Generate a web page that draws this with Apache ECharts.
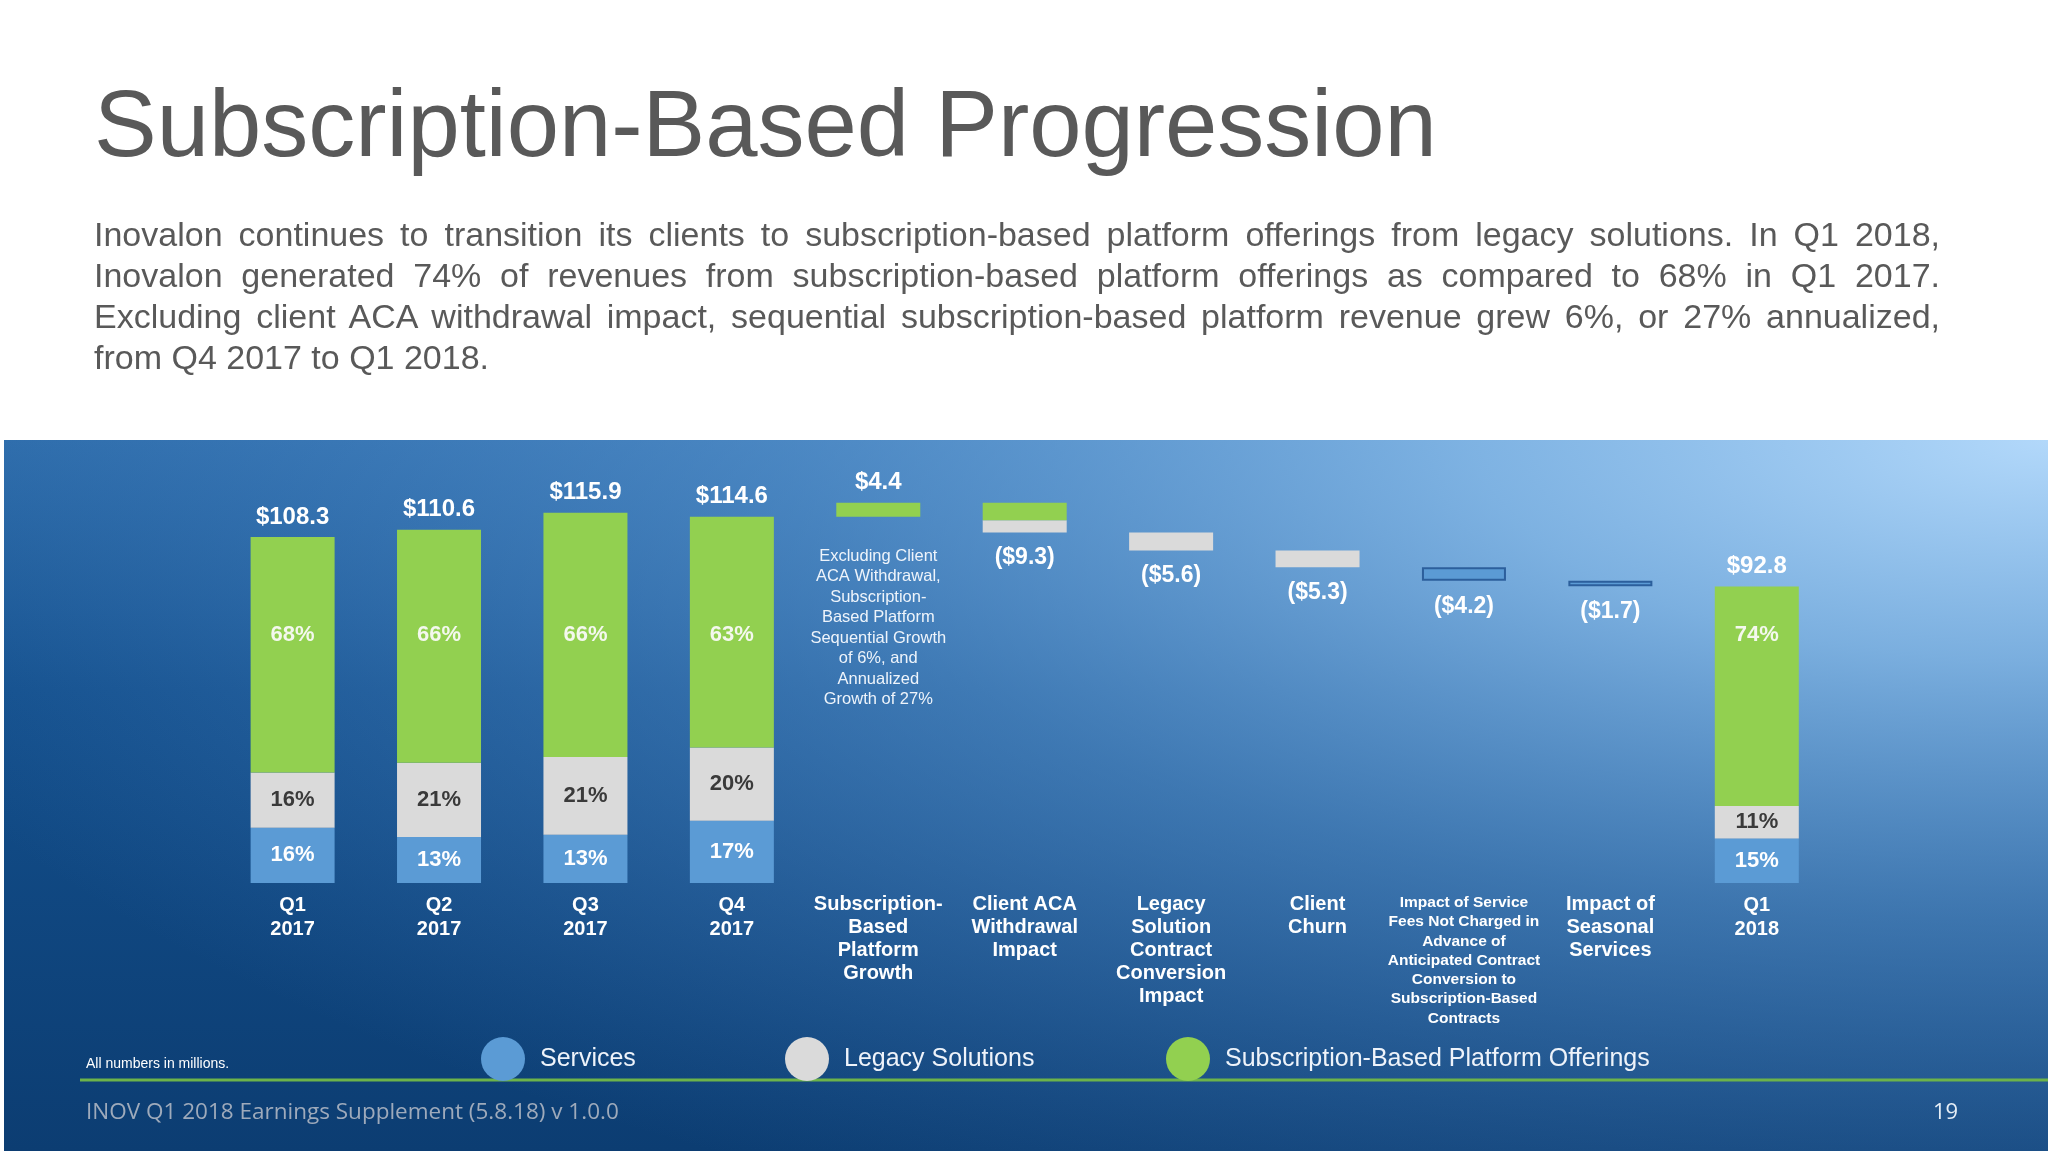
<!DOCTYPE html>
<html>
<head>
<meta charset="utf-8">
<script src="https://cdn.jsdelivr.net/npm/echarts@6/dist/echarts.min.js"></script>
<style>
  html, body { margin: 0; padding: 0; background: #ffffff; overflow: hidden; }
  #wrap { position: relative; width: 2048px; height: 1151px; }
  #chart { position: absolute; left: 0; top: 0; width: 2048px; height: 1151px; }
  #title { position: absolute; left: 94px; top: 77px; font-family: "Liberation Sans", Arial, sans-serif;
           font-size: 94px; line-height: 94px; color: #595959; white-space: nowrap; }
  #para { position: absolute; left: 94px; top: 214px; width: 1846px; font-family: "Liberation Sans", Arial, sans-serif;
          font-size: 34px; line-height: 41px; color: #595959; }
  #para .j { text-align: justify; text-align-last: justify; }
  #para .l { text-align: left; }
</style>
</head>
<body>
<div id="wrap">
  <div id="chart"></div>
  <div id="title">Subscription-Based Progression</div>
  <div id="para">
    <div class="j">Inovalon continues to transition its clients to subscription-based platform offerings from legacy solutions. In Q1 2018,</div>
    <div class="j">Inovalon generated 74% of revenues from subscription-based platform offerings as compared to 68% in Q1 2017.</div>
    <div class="j">Excluding client ACA withdrawal impact, sequential subscription-based platform revenue grew 6%, or 27% annualized,</div>
    <div class="l">from Q4 2017 to Q1 2018.</div>
  </div>
</div>
<script>
// ---------------- DATA ----------------
const categories = [
  'Q1\n2017', 'Q2\n2017', 'Q3\n2017', 'Q4\n2017',
  'Subscription-\nBased\nPlatform\nGrowth',
  'Client ACA\nWithdrawal\nImpact',
  'Legacy\nSolution\nContract\nConversion\nImpact',
  'Client\nChurn',
  'Impact of Service\nFees Not Charged in\nAdvance of\nAnticipated Contract\nConversion to\nSubscription-Based\nContracts',
  'Impact of\nSeasonal\nServices',
  'Q1\n2018'
];
// period totals ($M); null = bridge step
const periodTotals = [108.3, 110.6, 115.9, 114.6, null, null, null, null, null, null, 92.8];
// bridge changes ($M)
const changeVals = [null, null, null, null, 4.4, -9.3, -5.6, -5.3, -4.2, -1.7, null];
// stacked segment values ($M)
const servicesVals     = [17.3, 14.4, 15.1, 19.5, null, null, null, null, 4.2, 1.7, 13.9];
const legacyVals       = [17.3, 23.2, 24.3, 22.9, null, 3.8, 5.6, 5.3, null, null, 10.2];
const subscriptionVals = [73.7, 73.0, 76.5, 72.2, 4.4, 5.5, null, null, null, null, 68.7];
// segment share labels (%)
const servicesPct     = [16, 13, 13, 17, null, null, null, null, null, null, 15];
const legacyPct       = [16, 21, 21, 20, null, null, null, null, null, null, 11];
const subscriptionPct = [68, 66, 66, 63, null, null, null, null, null, null, 74];
const growthNote = 'Excluding Client\nACA Withdrawal,\nSubscription-\nBased Platform\nSequential Growth\nof 6%, and\nAnnualized\nGrowth of 27%';
const legendNames = ['Services', 'Legacy Solutions', 'Subscription-Based Platform Offerings'];

// ---------------- STYLE CONSTANTS ----------------
const C_SERV = '#5b9bd5', C_LEG = '#dadada', C_SUB = '#92d050';
const FONT = '"Liberation Sans", Arial, sans-serif';
const NARROW = '"Liberation Sans Narrow", "Arial Narrow", "Liberation Sans", Arial, sans-serif';
const GREEN_LABEL_Y = 635;

// ---------------- DERIVED (running bridge) ----------------
const baseVals = [], topVals = [];
let running = null;
for (let i = 0; i < categories.length; i++) {
  if (periodTotals[i] != null) { running = periodTotals[i]; baseVals.push(null); topVals.push(periodTotals[i]); }
  else {
    const c = changeVals[i];
    if (c > 0) { baseVals.push(running); running += c; topVals.push(running); }
    else { running += c; baseVals.push(running); topVals.push(null); }
  }
}

function baseData() {
  return baseVals.map((v, i) => {
    if (v == null) return null;
    const c = changeVals[i];
    if (c > 0) {
      return { value: v, label: { show: true, position: 'insideTop', distance: 29, formatter: growthNote,
        fontSize: 16.5, lineHeight: 20.5, fontWeight: 'normal', color: '#eef4fb', fontFamily: FONT } };
    }
    return { value: v, label: { show: true, position: 'insideTop', distance: 14,
      formatter: '($' + Math.abs(c).toFixed(1) + ')', fontSize: 23, fontWeight: 'bold', color: '#ffffff', fontFamily: FONT } };
  });
}

function servicesData() {
  return servicesVals.map((v, i) => {
    if (v == null) return null;
    if (periodTotals[i] == null) return { value: v, itemStyle: { borderColor: '#2c5f9c', borderWidth: 2 } };
    return v;
  });
}

function subscriptionData(distances) {
  return subscriptionVals.map((v, i) => {
    if (v == null) return null;
    return { value: v, label: { distance: distances ? (distances[i] || 0) : 90 } };
  });
}

const chart = echarts.init(document.getElementById('chart'), null, { renderer: 'canvas' });

const labelInside = (pct, color) => ({
  show: true, position: 'inside', fontSize: 22, fontWeight: 'bold', color: color, fontFamily: FONT,
  formatter: p => pct[p.dataIndex] != null ? pct[p.dataIndex] + '%' : ''
});

const legendCommon = {
  top: 1032, icon: 'circle', itemWidth: 44, itemHeight: 44, selectedMode: false,
  textStyle: { color: '#eef3fa', fontSize: 25, fontFamily: FONT, padding: [0, 0, 0, 10] }
};

const option = {
  animation: false,
  backgroundColor: '#ffffff',
  graphic: { elements: [
    { type: 'rect', z: -10, shape: { x: 4, y: 440, width: 2044, height: 711 },
      style: { fill: { type: 'linear', x: 0, y: 0, x2: 0, y2: 1, colorStops: [
        { offset: 0, color: '#2a69a7' }, { offset: 0.35, color: '#134f8c' }, { offset: 1, color: '#0c3d72' } ] } } },
    { type: 'rect', z: -9, x: 4, y: 440, scaleY: 0.38, shape: { x: 0, y: 0, width: 2044, height: 1871 },
      style: { fill: { type: 'radial', x: 1, y: 0, r: 1.23, colorStops: [
        { offset: 0, color: 'rgba(178,216,250,1)' },
        { offset: 0.25, color: 'rgba(145,195,240,0.82)' },
        { offset: 0.55, color: 'rgba(110,168,225,0.48)' },
        { offset: 1, color: 'rgba(80,140,210,0)' } ] } } },
    { type: 'line', z: -8, shape: { x1: 80, y1: 1080, x2: 2048, y2: 1080 }, style: { stroke: '#6db34a', lineWidth: 3 } },
    { type: 'text', z: 5, x: 86, y: 1064, style: { text: 'All numbers in millions.', fill: '#ffffff', fontSize: 14,
      fontFamily: FONT, verticalAlign: 'middle' } },
    { type: 'text', z: 5, x: 86, y: 1113, style: { text: 'INOV Q1 2018 Earnings Supplement (5.8.18) v 1.0.0', fill: '#9eaabb',
      fontSize: 22.5, fontFamily: '"Open Sans", sans-serif', verticalAlign: 'middle' } },
    { type: 'text', z: 5, x: 1933, y: 1113, style: { text: '19', fill: '#e6eef6', fontSize: 22,
      fontFamily: '"Open Sans", sans-serif', verticalAlign: 'middle' } }
  ] },
  legend: [
    Object.assign({}, legendCommon, { data: [legendNames[0]], left: 476 }),
    Object.assign({}, legendCommon, { data: [legendNames[1]], left: 780 }),
    Object.assign({}, legendCommon, { data: [legendNames[2]], left: 1161 })
  ],
  grid: { left: 219.4, top: 435.7, width: 1610.6, height: 447.3 },
  xAxis: {
    type: 'category', data: categories,
    axisLine: { show: false }, axisTick: { show: false }, splitLine: { show: false },
    axisLabel: {
      interval: 0, margin: 10, color: '#ffffff', fontSize: 20, lineHeight: 24, fontWeight: 'bold', fontFamily: FONT,
      formatter: (v, i) => {
        if (periodTotals[i] != null) return v;
        if (v.split('\n').length > 5) return '{s|' + v + '}';
        return '{w|' + v + '}';
      },
      rich: {
        w: { fontSize: 20, lineHeight: 23, fontWeight: 'bold', color: '#ffffff', fontFamily: NARROW },
        s: { fontSize: 15.5, lineHeight: 19.3, fontWeight: 'bold', color: '#ffffff', fontFamily: NARROW }
      }
    }
  },
  yAxis: { type: 'value', min: 0, max: 140, show: false, splitLine: { show: false } },
  series: [
    { name: 'Base', type: 'bar', stack: 'w', barWidth: 84, data: baseData(),
      itemStyle: { color: 'rgba(0,0,0,0)' }, emphasis: { disabled: true } },
    { name: legendNames[0], type: 'bar', stack: 'w', barWidth: 84, data: servicesData(),
      itemStyle: { color: C_SERV }, label: labelInside(servicesPct, '#ffffff') },
    { name: legendNames[1], type: 'bar', stack: 'w', barWidth: 84, data: legacyVals,
      itemStyle: { color: C_LEG }, label: labelInside(legacyPct, '#3a3a3a') },
    { name: legendNames[2], type: 'bar', stack: 'w', barWidth: 84, data: subscriptionData(null),
      itemStyle: { color: C_SUB },
      label: { show: true, position: 'insideTop', fontSize: 22, fontWeight: 'bold', color: '#f4f8ee', fontFamily: FONT,
        formatter: p => subscriptionPct[p.dataIndex] != null ? subscriptionPct[p.dataIndex] + '%' : '' } },
    { name: 'Total', type: 'bar', barWidth: 84, barGap: '-100%', data: topVals, z: 1,
      itemStyle: { color: 'rgba(0,0,0,0)' }, emphasis: { disabled: true },
      label: { show: true, position: 'top', distance: 8, fontSize: 24, fontWeight: 'bold', color: '#ffffff', fontFamily: FONT,
        formatter: p => periodTotals[p.dataIndex] != null
          ? '$' + periodTotals[p.dataIndex].toFixed(1)
          : '$' + changeVals[p.dataIndex].toFixed(1) } }
  ]
};

chart.setOption(option);

// place the subscription share labels at a common height using the axis scale
const dists = periodTotals.map(t => {
  if (t == null) return 0;
  const topPx = chart.convertToPixel({ yAxisIndex: 0 }, t);
  return Math.max(4, GREEN_LABEL_Y - topPx - 11);
});
chart.setOption({ series: [{}, {}, {}, { data: subscriptionData(dists) }, {}] });
</script>
</body>
</html>
